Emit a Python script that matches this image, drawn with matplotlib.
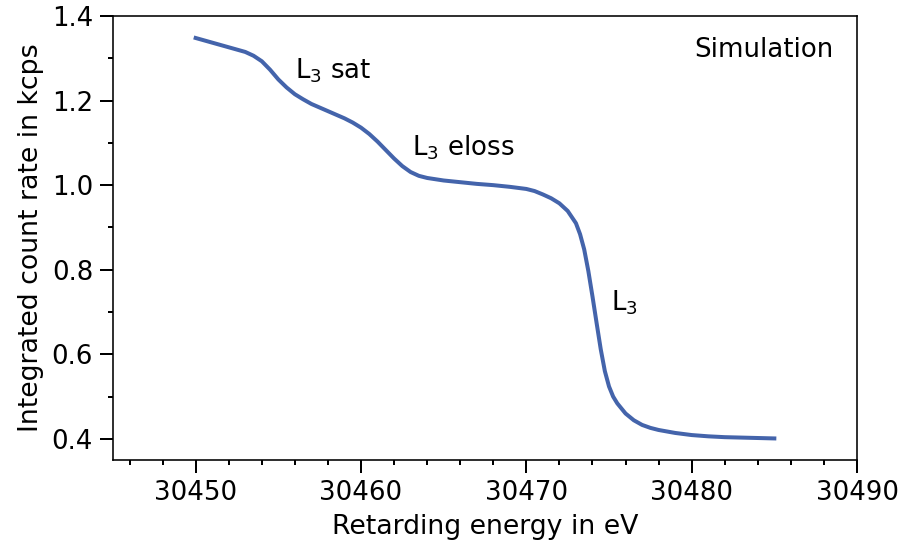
import numpy as np
import matplotlib
matplotlib.use('Agg')
import matplotlib.pyplot as plt
from matplotlib.ticker import MultipleLocator

# Simulierte integrierte Zaehlrate
energie = [30450.0, 30451.0, 30452.0, 30453.0, 30453.5, 30454.0, 30454.5,
           30455.0, 30455.5, 30456.0, 30456.5, 30457.0, 30458.0, 30459.0,
           30459.5, 30460.0, 30460.5, 30461.0, 30461.5, 30462.0, 30462.5,
           30463.0, 30463.5, 30464.0, 30465.0, 30466.0, 30467.0, 30468.0,
           30469.0, 30470.0, 30470.5, 30471.0, 30471.5, 30472.0, 30472.5,
           30473.0, 30473.25, 30473.5, 30473.75, 30474.0, 30474.25, 30474.5,
           30474.75, 30475.0, 30475.25, 30475.5, 30476.0, 30476.5, 30477.0,
           30477.5, 30478.0, 30479.0, 30480.0, 30481.0, 30482.0, 30483.0,
           30484.0, 30485.0]
rate = [1.348, 1.337, 1.326, 1.315, 1.306, 1.293, 1.273,
        1.250, 1.231, 1.215, 1.203, 1.192, 1.175, 1.158,
        1.148, 1.136, 1.121, 1.103, 1.083, 1.063, 1.045,
        1.031, 1.022, 1.017, 1.011, 1.007, 1.003, 1.000,
        0.996, 0.991, 0.986, 0.978, 0.969, 0.957, 0.939,
        0.910, 0.884, 0.848, 0.797, 0.737, 0.674, 0.612,
        0.560, 0.524, 0.500, 0.484, 0.460, 0.444, 0.433,
        0.426, 0.421, 0.414, 0.409, 0.406, 0.404, 0.403,
        0.402, 0.401]

# Beschriftungen der Stufen
labels = [r'L$_3$ sat', r'L$_3$ eloss', r'L$_3$']
label_x = [30456.0, 30463.1, 30475.15]
label_y = [1.2525, 1.071, 0.704]

plt.rcParams['font.family'] = 'DejaVu Sans'
plt.rcParams['font.size'] = 13
plt.rcParams['mathtext.default'] = 'regular'

fig, ax = plt.subplots(figsize=(901/144, 545/144), dpi=144)
fig.subplots_adjust(left=113/901, right=857/901, top=1-16/545, bottom=1-460/545)

ax.plot(energie, rate, '-', color='#4464ab', lw=2, solid_joinstyle='round')

for t, x, y in zip(labels, label_x, label_y):
    ax.text(x, y, t, ha='left', va='baseline', fontsize=13)
ax.text(0.968, 0.952, 'Simulation', transform=ax.transAxes, ha='right', va='top', fontsize=13)

ax.set_xlim(30445, 30490)
ax.set_ylim(0.35, 1.4)
ax.xaxis.set_major_locator(MultipleLocator(10))
ax.xaxis.set_minor_locator(MultipleLocator(2))
ax.yaxis.set_major_locator(MultipleLocator(0.2))
ax.yaxis.set_minor_locator(MultipleLocator(0.1))
ax.tick_params(which='major', length=6.5, width=1)
ax.tick_params(which='minor', length=2.5, width=1)
for s in ax.spines.values():
    s.set_linewidth(0.8)

ax.set_xlabel('Retarding energy in eV', fontsize=13.4)
ax.set_ylabel('Integrated count rate in kcps', fontsize=13.4)

plt.savefig('out.png', dpi=144)
